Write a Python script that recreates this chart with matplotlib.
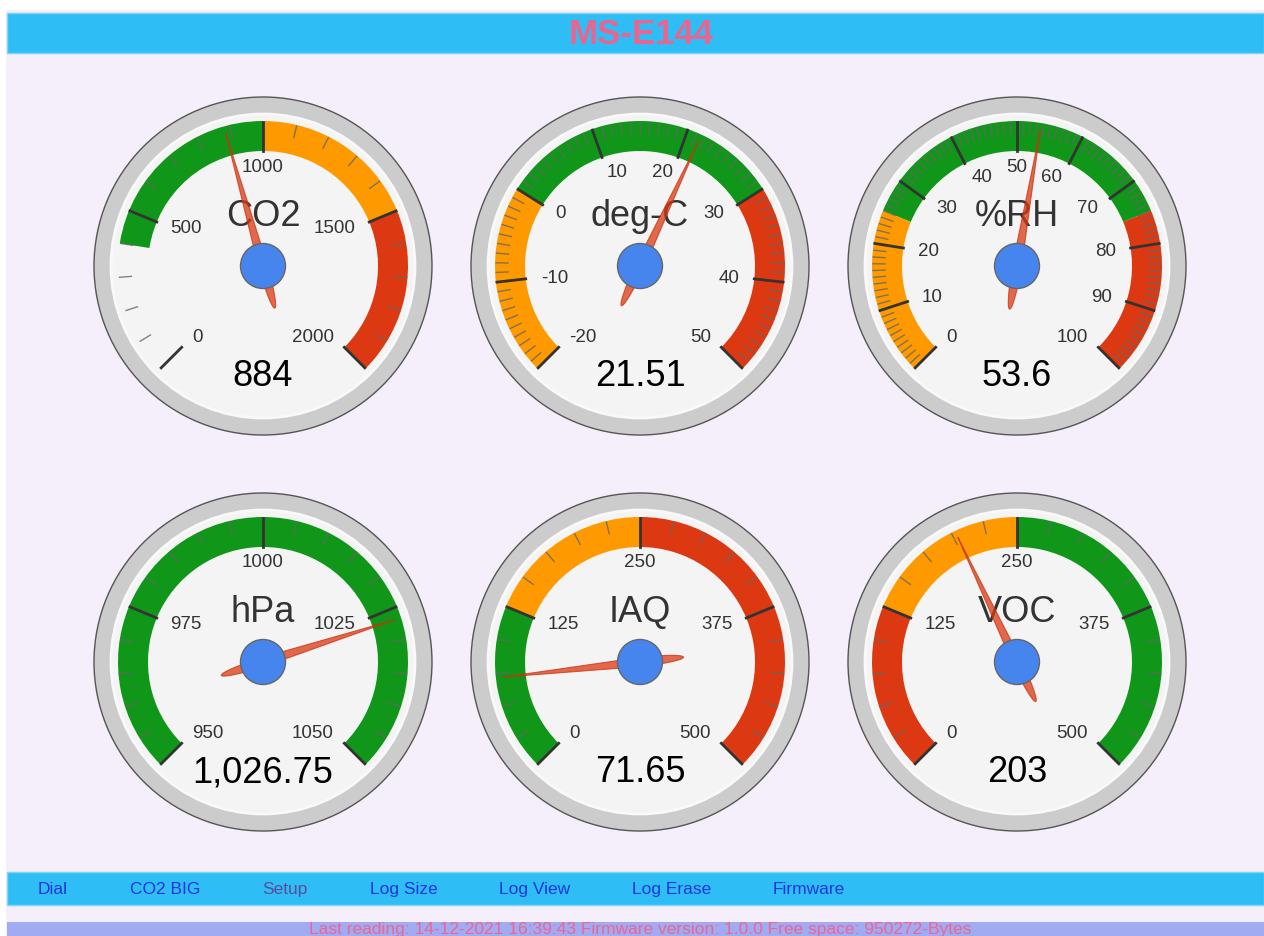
import numpy as np
import matplotlib.pyplot as plt
from matplotlib.patches import Circle, Wedge, Rectangle, Polygon

W, H = 1264, 937

# gauge data
titles = ['CO2', 'deg-C', '%RH', 'hPa', 'IAQ', 'VOC']
values = [884, 21.51, 53.6, 1026.75, 71.65, 203]
value_text = ['884', '21.51', '53.6', '1,026.75', '71.65', '203']
v_min = [0, -20, 0, 950, 0, 0]
v_max = [2000, 50, 100, 1050, 500, 500]
major_ticks = [
    [0, 500, 1000, 1500, 2000],
    [-20, -10, 0, 10, 20, 30, 40, 50],
    [0, 10, 20, 30, 40, 50, 60, 70, 80, 90, 100],
    [950, 975, 1000, 1025, 1050],
    [0, 125, 250, 375, 500],
    [0, 125, 250, 375, 500],
]
minor_ticks = [5, 10, 10, 5, 5, 5]

green_from = [400, 0, 25, 950, 0, 250]
green_to = [1000, 30, 75, 1050, 125, 500]
yellow_from = [1000, -20, 0, None, 125, 125]
yellow_to = [1500, 0, 25, None, 250, 250]
red_from = [1500, 30, 75, None, 250, 0]
red_to = [2000, 50, 100, None, 500, 125]

nav_items = ['Dial', 'CO2 BIG', 'Setup', 'Log Size', 'Log View', 'Log Erase', 'Firmware']
footer = 'Last reading: 14-12-2021 16:39:43 Firmware version: 1.0.0 Free space: 950272-Bytes'

# layout
centers = [(263, 267), (640, 267), (1017, 267), (263, 663), (640, 663), (1017, 663)]
nav_x = [38, 130, 262, 370, 499, 632, 773]
R_OUT, R_FACE, R_BAND, BAND_W = 169, 152, 145, 30
GREEN, YELLOW, RED = '#109618', '#ff9900', '#dc3912'
FONT = 'Liberation Sans'

fig = plt.figure(figsize=(W / 100, H / 100), dpi=100)
fig.patch.set_facecolor('white')
ax = fig.add_axes([0, 0, 1, 1])
ax.set_xlim(0, W)
ax.set_ylim(H, 0)
ax.axis('off')

# page
ax.add_patch(Rectangle((6, 11), W - 6, H - 11, fc='#f5effb', ec='none'))
ax.add_patch(Rectangle((7, 14), W - 7, 40, fc='#2fbdf5', ec='#7fd5f8', lw=1))
ax.text(641, 35, 'MS-E144', color='#ea6490', fontsize=25, fontweight='bold',
        family=FONT, ha='center', va='center')

ax.add_patch(Rectangle((7, 873), W - 7, 33, fc='#2fbdf5', ec='#7fd5f8', lw=1))
for x, item in zip(nav_x, nav_items):
    col = '#5a4c9c' if item == 'Setup' else '#1e36e0'
    ax.text(x, 890, item, color=col, fontsize=12.5, family=FONT, ha='left', va='center')
ax.add_patch(Rectangle((7, 923), W - 7, 20, fc='#a1abf2', ec='none'))
ax.text(640, 934, footer, color='#ee6592', fontsize=12.5, family=FONT,
        ha='center', va='baseline')


def ang(v, lo, hi):
    return 225 - 270 * (v - lo) / (hi - lo)


def pt(cx, cy, r, a):
    t = np.radians(a)
    return cx + r * np.cos(t), cy - r * np.sin(t)


for i, (cx, cy) in enumerate(centers):
    lo, hi = v_min[i], v_max[i]
    ax.add_patch(Circle((cx, cy), R_OUT, fc='#cccccc', ec='#555555', lw=1, zorder=1))
    ax.add_patch(Circle((cx, cy), R_FACE, fc='#f4f4f4', ec='#f9f9f9', lw=2, zorder=1))

    for f, t, c in [(green_from[i], green_to[i], GREEN),
                    (yellow_from[i], yellow_to[i], YELLOW),
                    (red_from[i], red_to[i], RED)]:
        if f is None:
            continue
        ax.add_patch(Wedge((cx, cy), R_BAND, -ang(f, lo, hi), -ang(t, lo, hi),
                           width=BAND_W, fc=c, ec='none', zorder=2))

    majors = major_ticks[i]
    step = (majors[1] - majors[0]) / minor_ticks[i]
    for m in majors[:-1]:
        for k in range(1, minor_ticks[i]):
            a = ang(m + k * step, lo, hi)
            x0, y0 = pt(cx, cy, R_BAND - 1, a)
            x1, y1 = pt(cx, cy, R_BAND - 13, a)
            ax.plot([x0, x1], [y0, y1], color='#666666', lw=1, alpha=0.8, zorder=3)
    for m in majors:
        a = ang(m, lo, hi)
        x0, y0 = pt(cx, cy, R_BAND - 1, a)
        x1, y1 = pt(cx, cy, R_BAND - BAND_W, a)
        ax.plot([x0, x1], [y0, y1], color='#333333', lw=2, zorder=3)
        lx, ly = pt(cx, cy, 100, a)
        c = np.cos(np.radians(a))
        ha = 'left' if c < -0.2 else ('right' if c > 0.2 else 'center')
        ax.text(lx, ly, f'{m:g}', color='#333333', fontsize=13.5, family=FONT,
                ha=ha, va='center', zorder=4)

    ax.text(cx, cy - 50, titles[i], color='#333333', fontsize=26, family=FONT,
            ha='center', va='center', zorder=4)
    ax.text(cx, cy + 110, value_text[i], color='#000000', fontsize=26, family=FONT,
            ha='center', va='center', zorder=4)

    # needle
    a = np.radians(ang(values[i], lo, hi))
    d = np.array([np.cos(a), -np.sin(a)])
    p = np.array([np.sin(a), np.cos(a)])
    ts = np.linspace(-44, 138, 120)
    hw = np.where(ts < 0, 4.6 * np.sqrt(np.clip(1 - (ts / 44) ** 2, 0, 1)),
                  4.6 * (1 - ts / 138))
    left = np.array([cx, cy]) + ts[:, None] * d + hw[:, None] * p
    right = np.array([cx, cy]) + ts[:, None] * d - hw[:, None] * p
    poly = np.vstack([left, right[::-1]])
    ax.add_patch(Polygon(poly, closed=True, fc='#dc3912', ec='#c63310', lw=0.8,
                         alpha=0.75, zorder=6))
    ax.add_patch(Circle((cx, cy), 22.5, fc='#4684ee', ec='#666666', lw=1, zorder=7))

fig.savefig('out.png', dpi=100)
